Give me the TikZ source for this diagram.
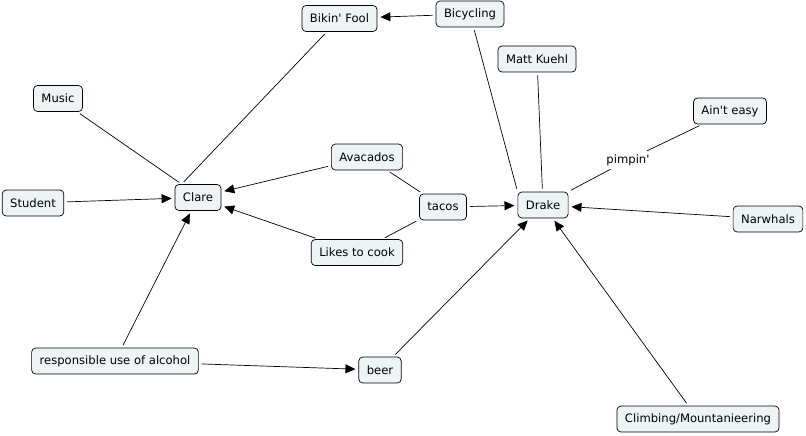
\documentclass[tikz,border=0pt]{standalone}
\usepackage{fontspec}
\setmainfont{DejaVu Sans}
\usetikzlibrary{arrows.meta,calc}
\definecolor{boxfill}{HTML}{EEF3F6}
\begin{document}
\begin{tikzpicture}[x=1pt,y=-1pt,
  concept/.style={draw=black, line width=0.7pt, fill=boxfill, rounded corners=4pt,
    font=\fontsize{11.6}{13}\selectfont, inner xsep=8pt, minimum height=26pt, anchor=center},
  lbl/.style={font=\fontsize{11.6}{13}\selectfont, inner sep=2pt},
  link/.style={line width=0.7pt, shorten <=3pt, shorten >=3pt},
  arr/.style={link, -{Triangle[length=10pt,width=9pt]}}]
\useasboundingbox (0,0) rectangle (806,436);
\node[concept] (bf) at (339.5,18.5) {Bikin\textquotesingle{} Fool};
\node[concept] (bic) at (470,14) {Bicycling};
\node[concept] (mk) at (537,59) {Matt Kuehl};
\node[concept] (mus) at (58,98.5) {Music};
\node[concept] (ain) at (730,111) {Ain\textquotesingle t easy};
\node[concept] (ava) at (367,157) {Avacados};
\node[concept] (cl) at (198,197.5) {Clare};
\node[concept] (stu) at (33,203) {Student};
\node[concept] (tac) at (443,207) {tacos};
\node[concept] (dr) at (543,205) {Drake};
\node[concept] (nar) at (768,219) {Narwhals};
\node[concept] (ltc) at (357,252.5) {Likes to cook};
\node[concept] (rua) at (115,361) {responsible use of alcohol};
\node[concept] (beer) at (380,370) {beer};
\node[concept] (cm) at (698,419) {Climbing/Mountanieering};
\node[lbl] (pim) at (628,160) {pimpin\textquotesingle};
\coordinate (clnw) at ($(cl.north west)+(7,0)$);

\draw[arr] (bic) -- (bf);
\draw[link] (bf) -- (clnw);
\draw[link] (mus) -- (clnw);
\draw[arr] (stu) -- (cl);
\draw[arr] (ava) -- (cl);
\draw[arr] (ltc) -- (cl);
\draw[arr] (rua) -- (cl);
\draw[link] (ava) -- (tac);
\draw[link] (ltc) -- (tac);
\draw[arr] (tac) -- (dr);
\draw[link] (bic) -- (dr.north west);
\draw[link] (mk) -- (dr);
\draw[link] (dr) -- (pim);
\draw[link] (pim) -- (ain);
\draw[arr] (nar) -- (dr);
\draw[arr] (rua) -- (beer);
\draw[arr] (beer) -- (dr);
\draw[arr] (cm) -- (dr);
\end{tikzpicture}
\end{document}
